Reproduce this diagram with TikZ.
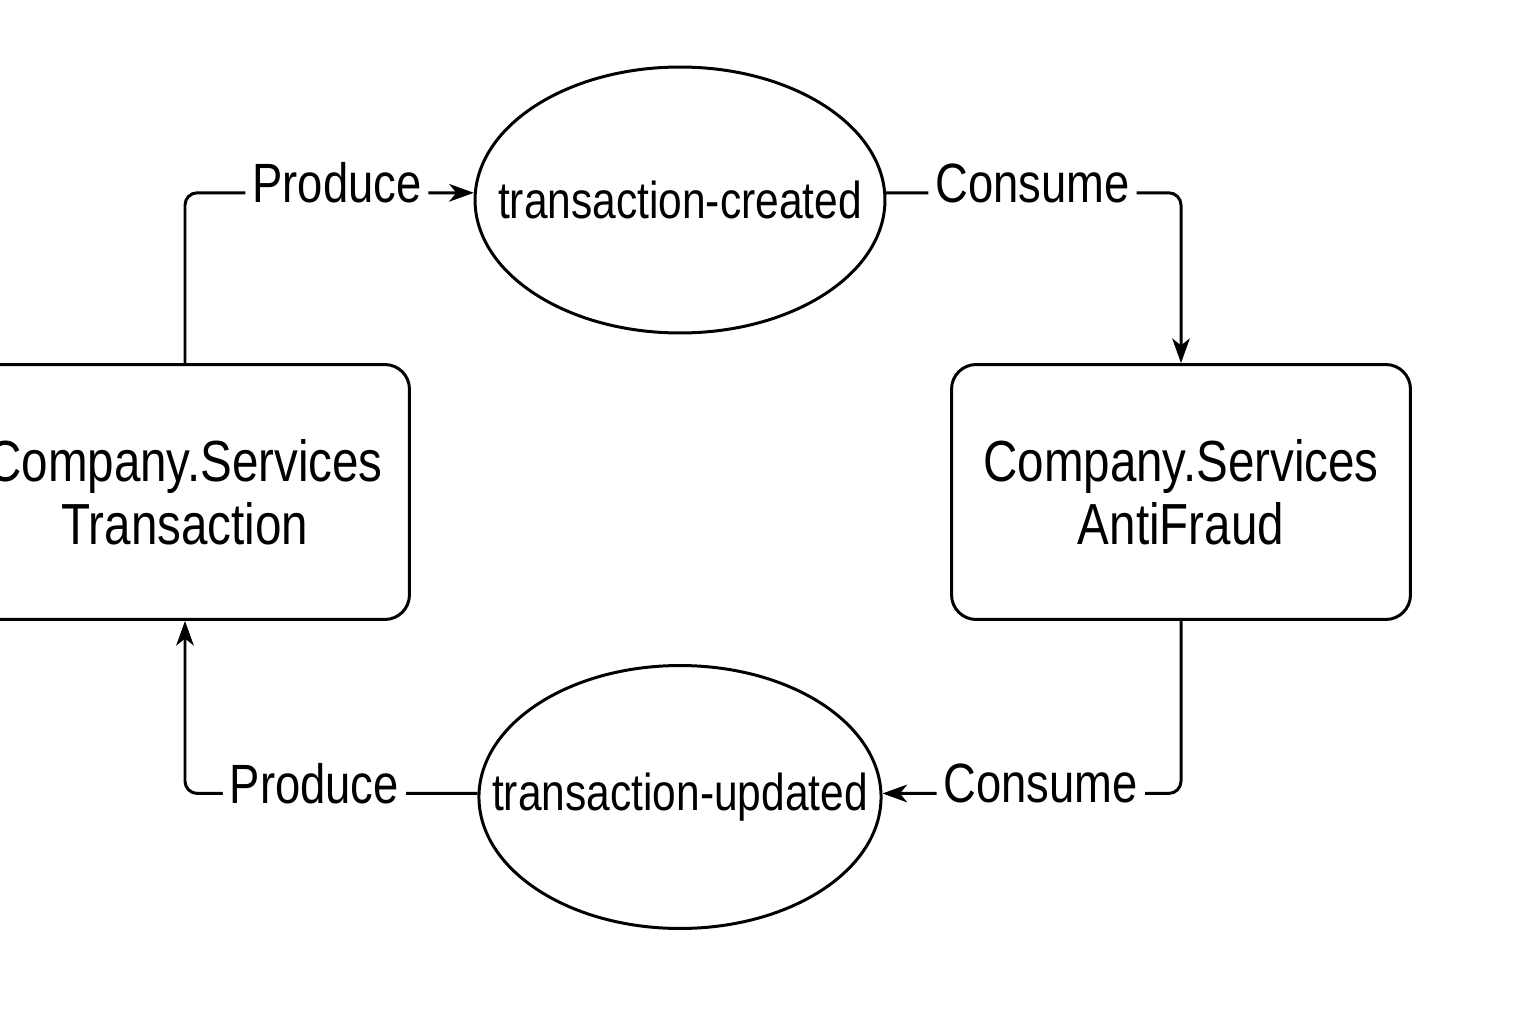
\documentclass[tikz,border=0pt]{standalone}
\usepackage{fontspec}
\setmainfont{Liberation Sans}[FakeStretch=0.82]
\usetikzlibrary{shapes,arrows.meta,positioning}
\tikzset{
  svcbox/.style={draw,line width=1.7pt,rounded corners=14pt,
    minimum width=9.18cm,minimum height=5.1cm,align=center,
    font=\fontsize{33}{36}\selectfont},
  topic/.style={draw,ellipse,line width=1.7pt,inner xsep=-26pt,inner ysep=0pt,
    font=\fontsize{29.5}{34}\selectfont},
  flowlbl/.style={fill=white,inner sep=4pt,yshift=5.5pt,
    font=\fontsize{31.5}{34}\selectfont},
  flow/.style={line width=1.7pt,rounded corners=7pt},
  tip/.style={-{Stealth[length=14pt,width=10pt,inset=4pt]}}
}

\begin{document}
\begin{tikzpicture}[x=0.02cm,y=-0.02cm]
\useasboundingbox (0,0) rectangle (1536,1024);

% services
\node[svcbox,minimum width=8.98cm] (trans) at (185,492) {Company.Services\\Transaction};
\node[svcbox] (fraud) at (1181,492) {Company.Services\\AntiFraud};

% topics
\node[topic,minimum width=8.2cm,minimum height=5.32cm] (created) at (680,200) {transaction-created};
\node[topic,minimum width=7.96cm,minimum height=5.26cm] (updated) at (680,797) {transaction-updated};

% flows
\draw[flow,tip] (trans.north) |- node[flowlbl,pos=0.763] {Produce} (created.178);
\draw[flow,tip] (created.2) -| node[flowlbl,pos=0.248] {Consume} (fraud.north);
\draw[flow,tip] (fraud.south) |- node[flowlbl,pos=0.735] {Consume} (updated.1);
\draw[flow,tip] (updated.179) -| node[flowlbl,pos=0.279] {Produce} (trans.south);
\end{tikzpicture}
\end{document}
